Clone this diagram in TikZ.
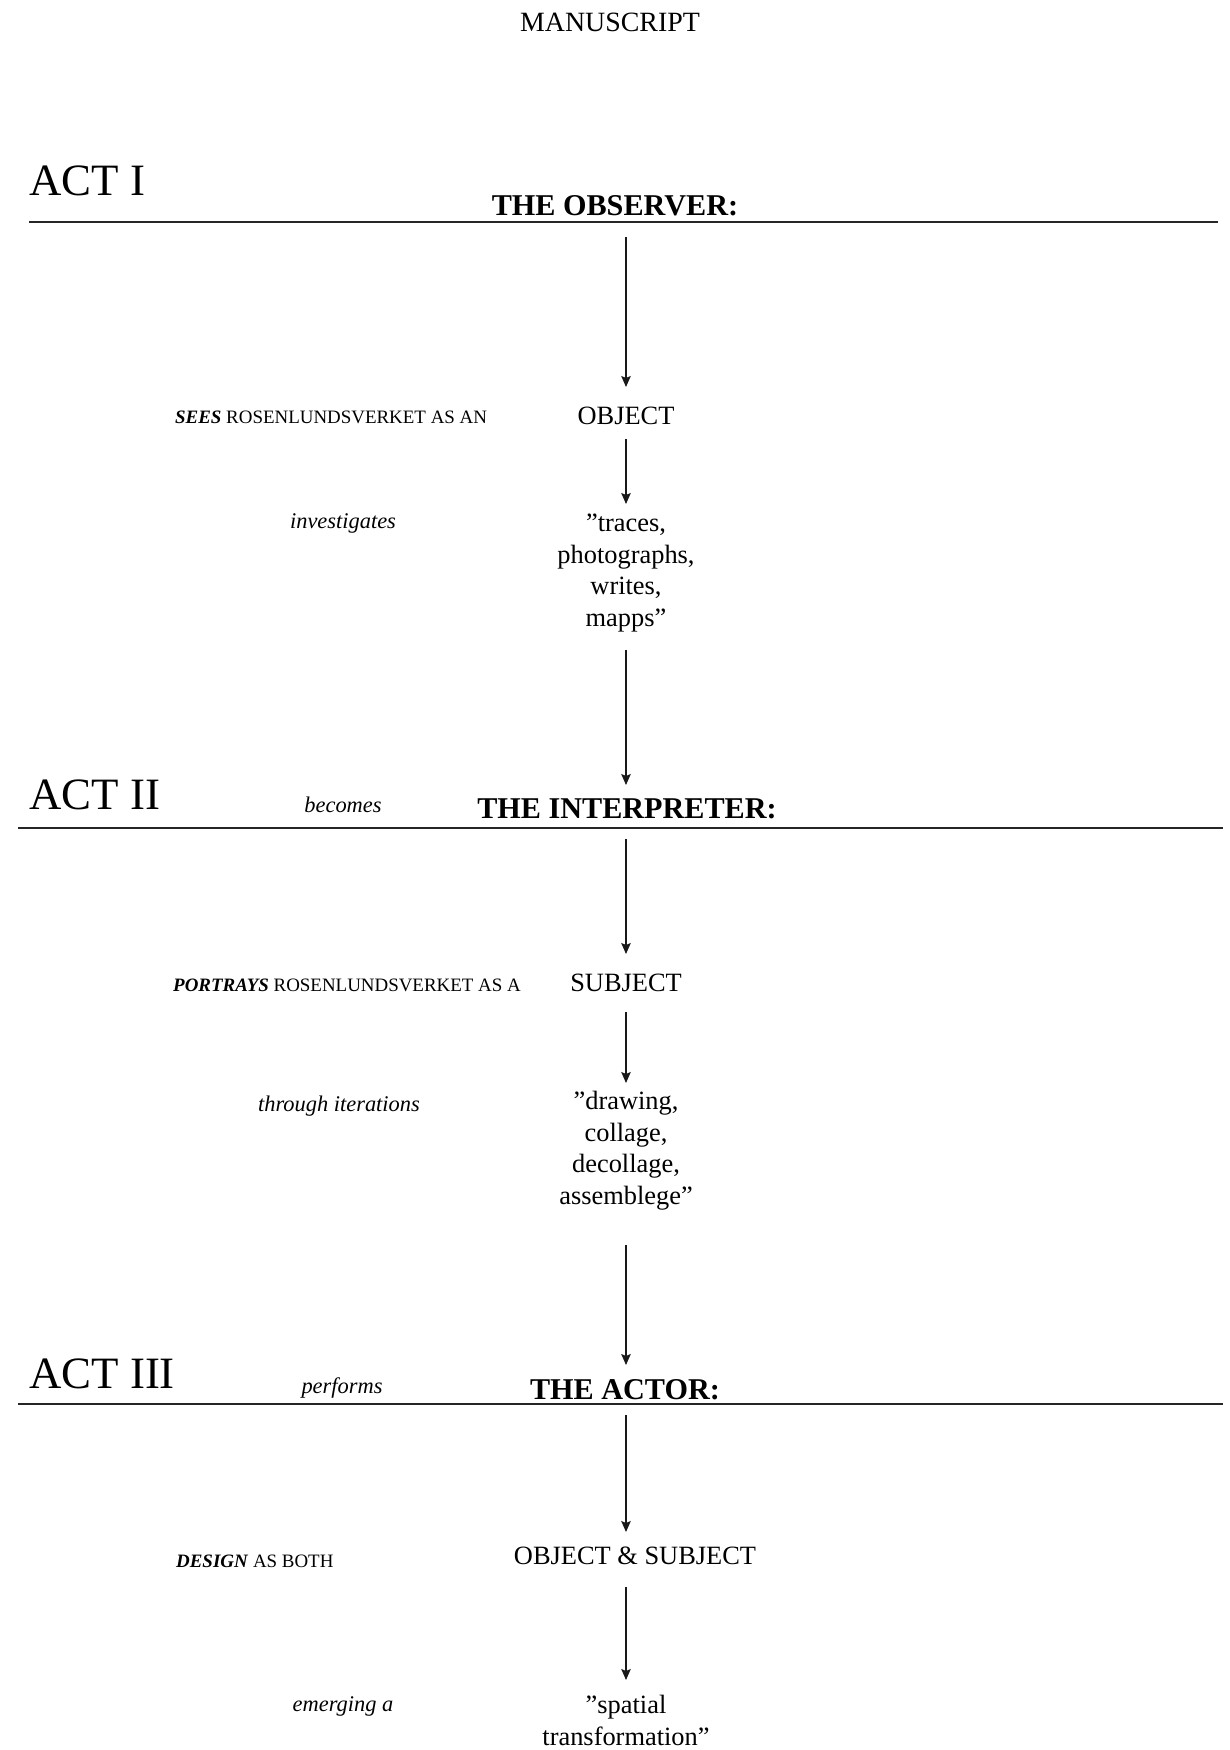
\documentclass[tikz,border=0pt]{standalone}
\usepackage{fontspec}
\setmainfont{Liberation Serif}
\usetikzlibrary{arrows.meta,calc}
\tikzset{
  arr/.style={draw=black!90, line width=1.2bp, -{Stealth[length=11bp,width=9.5bp,inset=2bp]}},
  rule/.style={draw=black!85, line width=1.7bp},
  acttxt/.style={anchor=base west, inner sep=0pt, font=\fontsize{45}{50}\selectfont},
  headtxt/.style={anchor=base, inner sep=0pt, font=\fontsize{30.3}{34}\bfseries\selectfont},
  bodytxt/.style={anchor=base, inner sep=0pt, align=center, font=\fontsize{26.5}{31.5}\selectfont},
  verbtxt/.style={anchor=base, inner sep=0pt, font=\fontsize{22.5}{26}\itshape\selectfont},
  leadtxt/.style={anchor=base west, inner sep=0pt, font=\fontsize{19}{22}\selectfont},
}
\begin{document}
\begin{tikzpicture}[x=1bp,y=-1bp]
\useasboundingbox (0,0) rectangle (1229,1750);
% title
\node[anchor=base, inner sep=0pt, font=\fontsize{28}{32}\selectfont] (title) at (610,31) {MANUSCRIPT};
% ACT I
\node[acttxt] (act1) at (29,195) {ACT I};
\node[headtxt] (obs) at (615,215) {THE OBSERVER:};
\coordinate (r1a) at (29,222); \coordinate (r1b) at (1218,222);
\draw[rule] (r1a) -- (r1b);
\node[leadtxt] (sees) at (175,423) {\textbf{\textit{SEES}} ROSENLUNDSVERKET AS AN};
\node[bodytxt] (obj) at (626,424) {OBJECT};
\node[verbtxt] (inv) at (343,528) {investigates};
% base anchor = baseline of last line
\node[bodytxt] (traces) at (626,626) {”traces,\\photographs,\\writes,\\mapps”};
% ACT II
\node[acttxt] (act2) at (29,809) {ACT II};
\node[verbtxt] (becomes) at (343,812) {becomes};
\node[headtxt] (interp) at (627,818) {THE INTERPRETER:};
\coordinate (r2a) at (18,828); \coordinate (r2b) at (1223,828);
\draw[rule] (r2a) -- (r2b);
\node[leadtxt] (portrays) at (173,991) {\textbf{\textit{PORTRAYS}} ROSENLUNDSVERKET AS A};
\node[bodytxt] (subj) at (626,991) {SUBJECT};
\node[verbtxt] (iter) at (339,1111) {through iterations};
\node[bodytxt] (drawing) at (626,1204) {”drawing,\\collage,\\decollage,\\assemblege”};
% ACT III
\node[acttxt] (act3) at (29,1388) {ACT III};
\node[verbtxt] (performs) at (342,1393) {performs};
\node[headtxt] (actor) at (625,1399) {THE ACTOR:};
\coordinate (r3a) at (18,1404); \coordinate (r3b) at (1223,1404);
\draw[rule] (r3a) -- (r3b);
\node[leadtxt] (design) at (176,1567) {\textbf{\textit{DESIGN}} AS BOTH};
\node[bodytxt] (objsubj) at (635,1564) {OBJECT \& SUBJECT};
\node[verbtxt] (emerg) at (343,1711) {emerging a};
\node[bodytxt] (spatial) at (626,1745) {”spatial\\transformation”};
% arrows
\draw[arr] ($(obs.base -| obj.base)+(0,22)$) -- ($(obj.base)+(0,-37)$);
\draw[arr] ($(obj.base)+(0,15)$) -- ($(traces.base -| obj.base)+(0,-122)$);
\draw[arr] ($(traces.base -| obj.base)+(0,24)$) -- ($(interp.base -| obj.base)+(0,-33)$);
\draw[arr] ($(interp.base -| subj.base)+(0,21)$) -- ($(subj.base)+(0,-37)$);
\draw[arr] ($(subj.base)+(0,21)$) -- ($(drawing.base -| subj.base)+(0,-121)$);
\draw[arr] ($(drawing.base -| subj.base)+(0,41)$) -- ($(actor.base -| subj.base)+(0,-34)$);
\draw[arr] ($(actor.base -| subj.base)+(0,16)$) -- ($(objsubj.base -| subj.base)+(0,-32)$);
\draw[arr] ($(objsubj.base -| subj.base)+(0,23)$) -- ($(spatial.base -| subj.base)+(0,-65)$);
\end{tikzpicture}
\end{document}
